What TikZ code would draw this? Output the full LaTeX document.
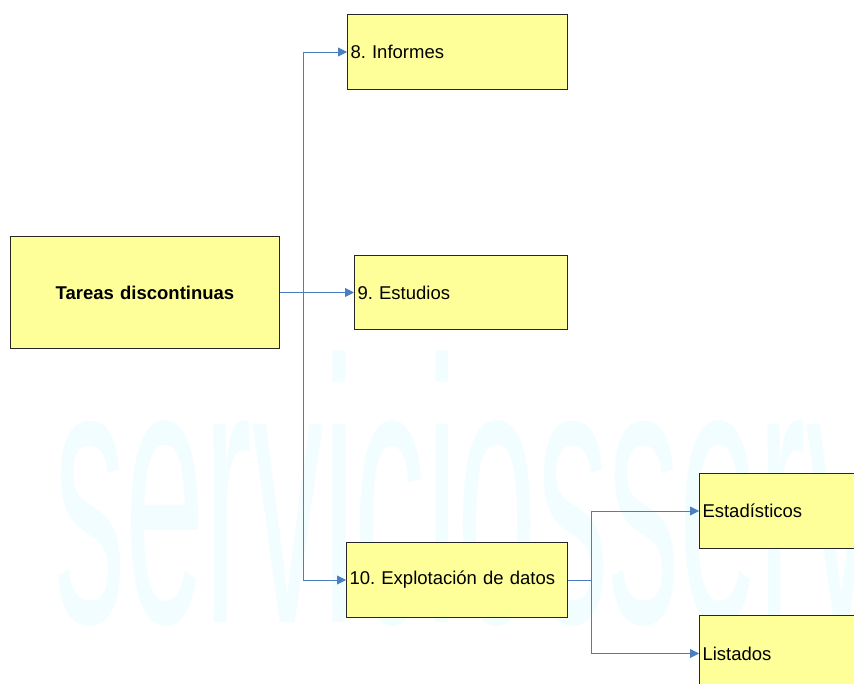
\documentclass[tikz,border=0pt]{standalone}
\usepackage{fontspec}
\setmainfont{Liberation Sans}
\usetikzlibrary{arrows.meta,calc}
\definecolor{boxyellow}{RGB}{255,255,153}
\definecolor{connblue}{RGB}{74,126,196}
\definecolor{wmark}{RGB}{242,253,255}
\frenchspacing
\begin{document}
\begin{tikzpicture}[x=1pt,y=-1pt,
  box/.style={draw=black!85, fill=boxyellow, line width=1pt, rectangle,
    inner xsep=3pt, inner ysep=0pt, anchor=north west, align=left,
    font=\fontsize{18.5}{22}\selectfont},
  conn/.style={draw=connblue, line width=0.9pt, -{Triangle[length=9pt,width=9pt]}},
  line/.style={draw=connblue, line width=0.9pt}]
\useasboundingbox (0,0) rectangle (854,684);
\fill[white] (0,0) rectangle (854,684);
\node[anchor=base west, inner sep=0pt, xscale=0.38, text=wmark,
  font=\fontsize{375}{375}\selectfont] (wm) at (54,622) {serviciosserv};

\node[box, align=center, text width=263pt, minimum height=112pt,
  font=\fontsize{18.5}{22}\selectfont\bfseries] (tareas) at (10,236) {Tareas discontinuas};
\node[box, text width=214pt, minimum height=75pt] (inf) at (347,14) {8. Informes};
\node[box, text width=207pt, minimum height=74pt] (est) at (354,255) {9. Estudios};
\node[box, text width=215pt, minimum height=75pt] (exp) at (346,542) {10. Explotación de datos};
\node[box, text width=154pt, minimum height=75pt] (esta) at (699,473) {Estadísticos};
\node[box, text width=154pt, minimum height=76pt] (lis) at (699,615) {Listados};

\coordinate (j1) at ($(tareas.east)+(23,0)$);
\coordinate (j2) at ($(exp.east)+(23,0)$);
\draw[conn] (tareas.east) -- (est.west);
\draw[conn] (j1) |- (inf.west);
\draw[conn] (j1) |- (exp.west);
\draw[line] (exp.east) -- (j2);
\draw[conn] (j2) |- (esta.west);
\draw[conn] (j2) |- (lis.west);
\end{tikzpicture}
\end{document}
